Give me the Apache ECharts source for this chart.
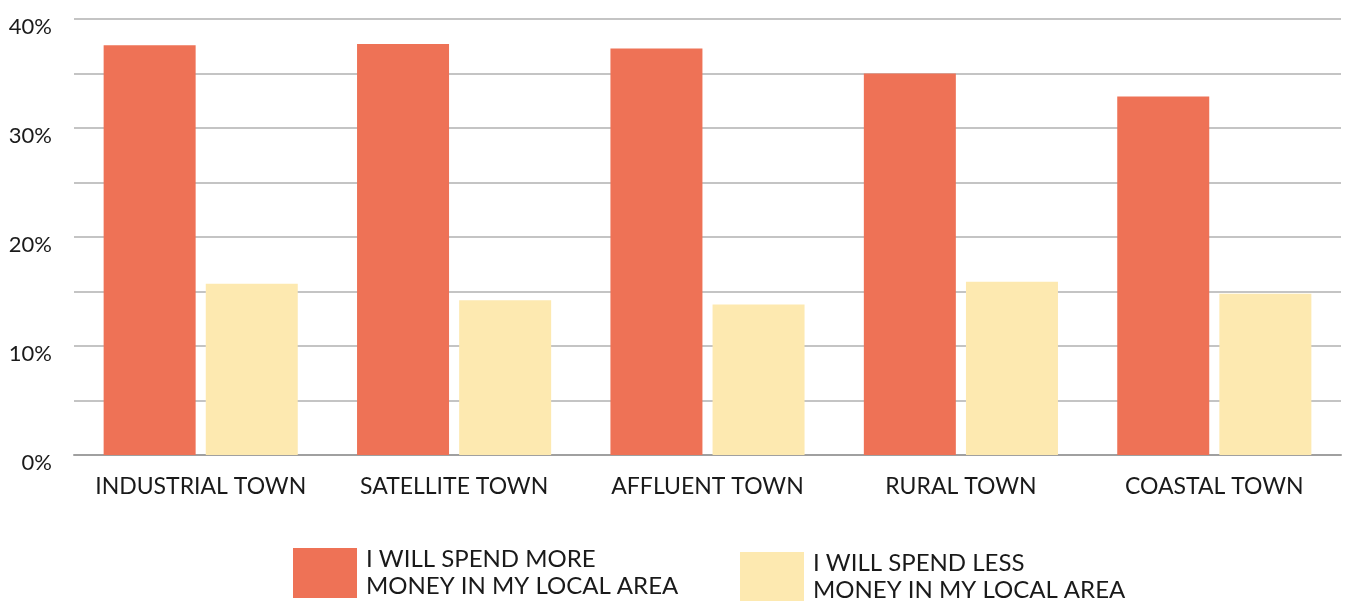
<!DOCTYPE html>
<html>
<head>
<meta charset="utf-8">
<script src="https://cdn.jsdelivr.net/npm/echarts@6/dist/echarts.min.js"></script>
<style>
  html, body { margin: 0; padding: 0; background: #fff; }
  #main { width: 1349px; height: 601px; }
</style>
</head>
<body>
<div id="main"></div>
<script>
// towns on the x axis
var towns = ['INDUSTRIAL TOWN', 'SATELLITE TOWN', 'AFFLUENT TOWN', 'RURAL TOWN', 'COASTAL TOWN'];
// percentages
var spendMore = [37.6, 37.7, 37.3, 35.0, 32.9];
var spendLess = [15.7, 14.2, 13.8, 15.9, 14.8];
var seriesNames = ['I WILL SPEND MORE\nMONEY IN MY LOCAL AREA', 'I WILL SPEND LESS\nMONEY IN MY LOCAL AREA'];

var myChart = echarts.init(document.getElementById('main'));
var font = 'Lato, "Open Sans", sans-serif';

var legendText = {
  fontFamily: font,
  fontSize: 24,
  color: '#1a1a1a',
  lineHeight: 27,
  padding: [0, 0, 0, 4]
};

var option = {
  animation: false,
  grid: { left: 74, right: 8, top: 19, bottom: 146 },
  legend: [
    {
      data: [seriesNames[0]],
      left: 293, top: 546,
      padding: 0,
      itemWidth: 64, itemHeight: 50,
      itemGap: 0,
      icon: 'rect',
      textStyle: legendText
    },
    {
      data: [seriesNames[1]],
      left: 740, top: 550,
      padding: 0,
      itemWidth: 64, itemHeight: 50,
      itemGap: 0,
      icon: 'rect',
      textStyle: legendText
    }
  ],
  xAxis: {
    type: 'category',
    data: towns,
    axisLine: { lineStyle: { color: '#a0a0a0', width: 2 } },
    axisTick: { inside: true, length: 10, lineStyle: { color: '#a0a0a0', width: 1 } },
    axisLabel: {
      interval: 0,
      fontFamily: font,
      fontSize: 23,
      color: '#1a1a1a',
      margin: 20
    }
  },
  yAxis: {
    type: 'value',
    min: 0,
    max: 40,
    interval: 5,
    axisLine: { show: false },
    axisTick: { show: false },
    splitLine: { lineStyle: { color: '#b0b0b0', width: 1.5 } },
    axisLabel: {
      margin: 22,
      formatter: function (v) {
        return v % 10 === 0 ? '{a|' + v + '%}' : '';
      },
      rich: {
        a: {
          fontFamily: font,
          fontSize: 22,
          color: '#1a1a1a',
          padding: [15, 0, 0, 0]
        }
      }
    }
  },
  series: [
    {
      name: seriesNames[0],
      type: 'bar',
      data: spendMore,
      barWidth: 92,
      barGap: '11%',
      itemStyle: { color: '#EE7256' }
    },
    {
      name: seriesNames[1],
      type: 'bar',
      data: spendLess,
      barWidth: 92,
      itemStyle: { color: '#FDE9B0' }
    }
  ]
};

option && myChart.setOption(option);
</script>
</body>
</html>
